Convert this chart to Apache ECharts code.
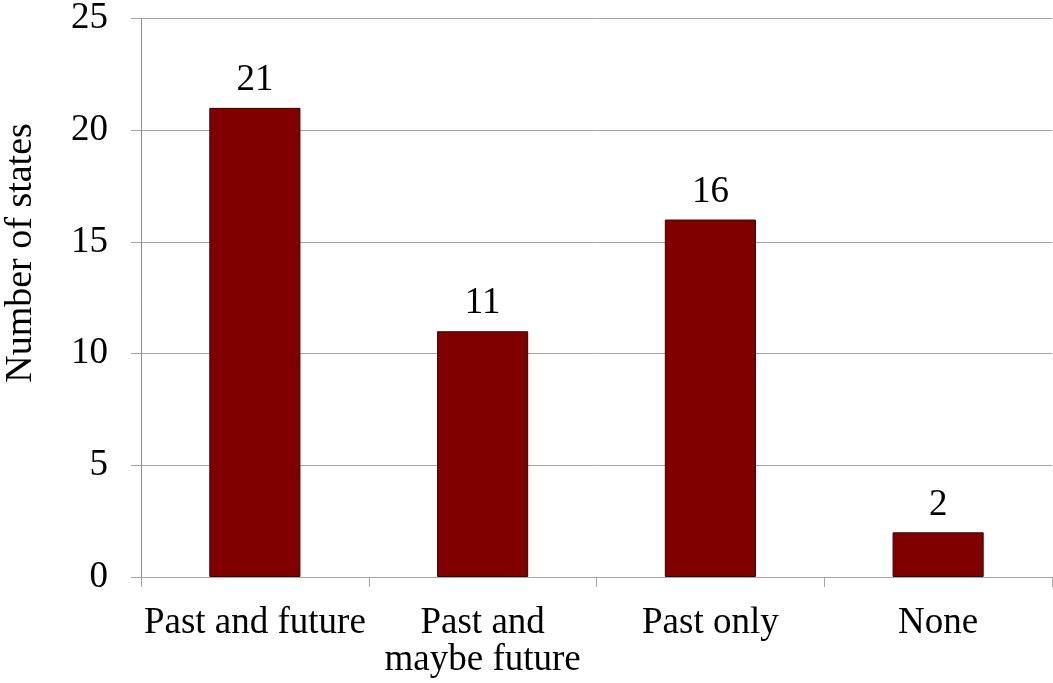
<!DOCTYPE html>
<html>
<head>
<meta charset="utf-8">
<script src="https://cdn.jsdelivr.net/npm/echarts@6/dist/echarts.min.js"></script>
<style>
  html, body { margin: 0; padding: 0; background: #fff; }
  #chart { width: 1053px; height: 683px; }
</style>
</head>
<body>
<div id="chart"></div>
<script>
// Number of states by period covered
const categories = ['Past and future', 'Past and\nmaybe future', 'Past only', 'None'];
const stateCounts = [21, 11, 16, 2];
const yTicks = [0, 5, 10, 15, 20, 25];

const FONT = '"Liberation Serif", "Times New Roman", serif';
const SIZE = 37;
const chart = echarts.init(document.getElementById('chart'));

chart.setOption({
  backgroundColor: '#ffffff',
  animation: false,
  grid: { left: 141, right: 1, top: 18, bottom: 106, containLabel: false },
  xAxis: {
    type: 'category',
    data: categories,
    axisLine: { show: true, lineStyle: { color: '#a6a6a6', width: 1 } },
    axisTick: { show: true, length: 10, lineStyle: { color: '#a6a6a6' } },
    axisLabel: {
      interval: 0, margin: 28,
      fontFamily: FONT, fontSize: SIZE, color: '#000', lineHeight: 37
    }
  },
  yAxis: {
    type: 'value',
    min: yTicks[0],
    max: yTicks[yTicks.length - 1],
    interval: 5,
    axisLine: { show: true, lineStyle: { color: '#8c8c8c', width: 1 } },
    axisTick: { show: true, length: 10, lineStyle: { color: '#a6a6a6' } },
    splitLine: { show: true, lineStyle: { color: '#a6a6a6', width: 1 } },
    axisLabel: {
      margin: 33,
      fontFamily: FONT, fontSize: SIZE, color: '#000'
    }
  },
  // rotated y-axis title
  graphic: [{
    type: 'text',
    x: 21, y: 253,
    rotation: Math.PI / 2,
    style: {
      text: 'Number of states',
      fontFamily: FONT, fontSize: 38, fill: '#000',
      align: 'center', verticalAlign: 'middle'
    }
  }],
  series: [{
    type: 'bar',
    data: stateCounts,
    barWidth: '40%',
    itemStyle: { color: '#800000', borderColor: '#3a0000', borderWidth: 1 },
    label: {
      show: true, position: 'top', distance: 9,
      fontFamily: FONT, fontSize: SIZE, color: '#000'
    }
  }]
});
</script>
</body>
</html>
